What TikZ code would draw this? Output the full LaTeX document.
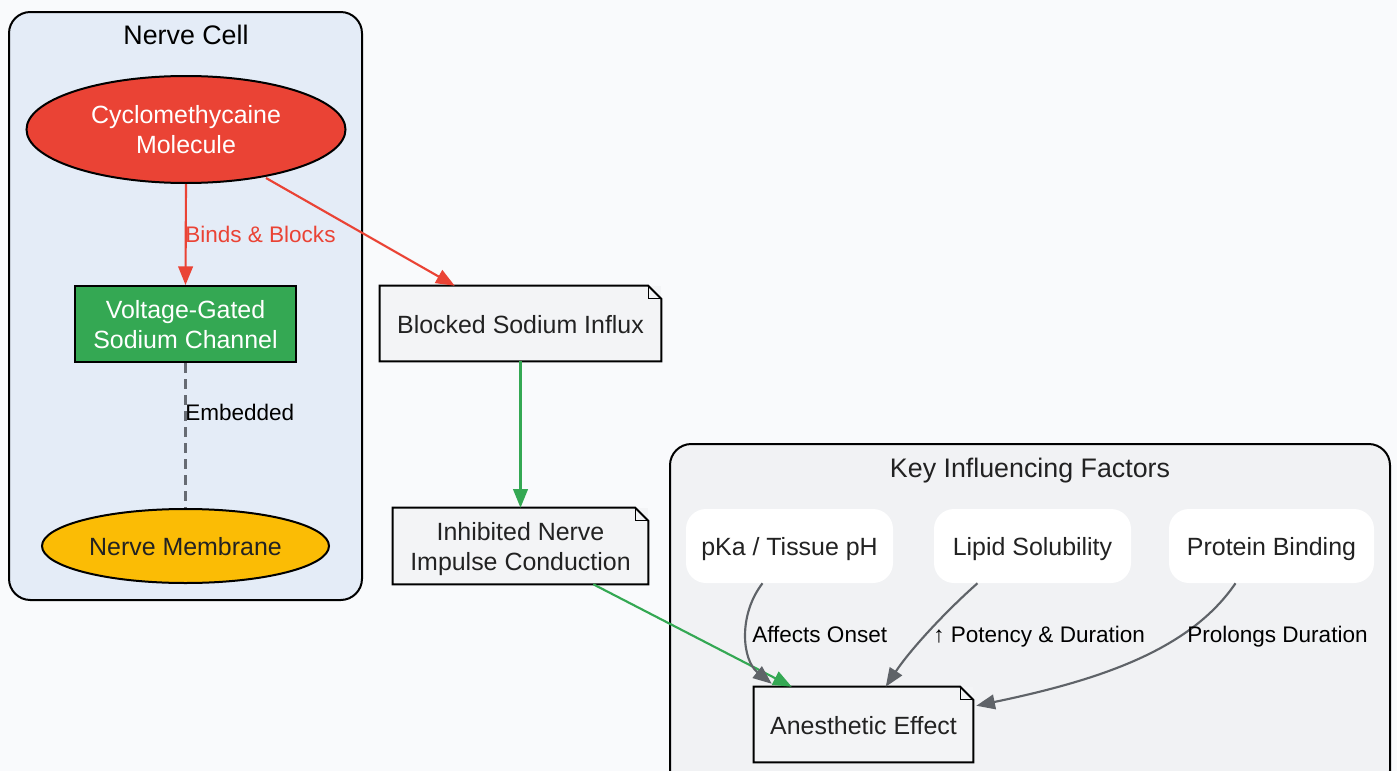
\documentclass[tikz,border=0pt]{standalone}
\usepackage{fontspec}
\setmainfont{Liberation Sans}
\usetikzlibrary{shapes.geometric,arrows.meta,calc}
\definecolor{bgc}{HTML}{F9FAFC}
\definecolor{cellfill}{HTML}{E4ECF7}
\definecolor{keyfill}{HTML}{F1F2F4}
\definecolor{molred}{HTML}{EA4335}
\definecolor{chgreen}{HTML}{34A853}
\definecolor{memyel}{HTML}{FBBC05}
\definecolor{notefill}{HTML}{F3F4F6}
\definecolor{txt}{HTML}{222222}
\definecolor{greyarrow}{HTML}{5F6368}
\definecolor{dashgrey}{HTML}{666B73}
\newcommand{\foldnote}[1]{%
  \draw[line width=1.5pt,line join=miter] (#1.north west) -- ($(#1.north east)+(-13,0)$) -- ($(#1.north east)+(0,13)$) -- (#1.south east) -- (#1.south west) -- cycle;
  \draw[line width=1.1pt] ($(#1.north east)+(-13,0)$) -- ++(0,13) -- ++(13,0);}
\tikzset{
  nodefont/.style={font=\fontsize{18.7}{22.4}\selectfont},
  titlefont/.style={font=\fontsize{20.1}{24}\selectfont},
  lblfont/.style={font=\fontsize{16.9}{20}\selectfont},
  oneline/.style={text height=16.8pt,text depth=2.2pt},
  twoline/.style={text height=36.8pt,text depth=0pt},
  cluster/.style={draw=black,line width=1.5pt,rounded corners=16pt},
  molstyle/.style={ellipse,draw=black,line width=1.5pt,fill=molred,text=white,nodefont,align=center,inner sep=0pt},
  chanstyle/.style={rectangle,draw=black,line width=1.5pt,fill=chgreen,text=white,nodefont,align=center,inner sep=0pt},
  memstyle/.style={ellipse,draw=black,line width=1.5pt,fill=memyel,text=txt,nodefont,align=center,inner sep=0pt},
  notebox/.style={rectangle,fill=notefill,text=txt,nodefont,align=center,inner sep=0pt},
  factor/.style={rectangle,rounded corners=15pt,fill=white,text=txt,nodefont,align=center,inner sep=0pt,minimum height=74*0.75pt,oneline},
  arrowtip/.style={-{Triangle[length=14pt,width=11pt]}},
  redarrow/.style={draw=molred,line width=1.6pt,arrowtip},
  greenarrow/.style={draw=chgreen,line width=1.6pt,arrowtip},
  greyarr/.style={draw=greyarrow,line width=1.6pt,arrowtip},
  edgelbl/.style={lblfont,anchor=base west,inner sep=0pt},
}
\begin{document}
\begin{tikzpicture}[x=0.75pt,y=-0.75pt]
\useasboundingbox[fill=bgc] (0,0) rectangle (1397,771);
% clusters
\draw[cluster,fill=cellfill] (9,12) rectangle (362,600);
\node[titlefont,text=black,anchor=base] (celltitle) at (186,45) {Nerve Cell};
\draw[cluster,fill=keyfill] (670,444) rectangle (1390,792);
\node[titlefont,text=txt,anchor=base] (keytitle) at (1030,477.5) {Key Influencing Factors};
% nerve cell nodes
\node[molstyle,minimum width=319*0.75pt,minimum height=107*0.75pt] (mol) at (186,129.5) {Cyclomethycaine\\Molecule};
\node[chanstyle,twoline,minimum width=221*0.75pt,minimum height=76*0.75pt] (chan) at (185.5,324) {Voltage-Gated\\Sodium Channel};
\node[memstyle,oneline,minimum width=287*0.75pt,minimum height=74*0.75pt] (mem) at (185.5,546) {Nerve Membrane};
% notes
\node[notebox,oneline,minimum width=281*0.75pt,minimum height=75*0.75pt] (blocked) at (520.5,323.5) {Blocked Sodium Influx};
\foldnote{blocked}
\node[notebox,twoline,minimum width=255*0.75pt,minimum height=76*0.75pt] (inhib) at (520.5,546) {Inhibited Nerve\\Impulse Conduction};
\foldnote{inhib}
\node[notebox,oneline,minimum width=219*0.75pt,minimum height=75*0.75pt] (anest) at (863.5,724.5) {Anesthetic Effect};
\foldnote{anest}
% factors
\node[factor,minimum width=207*0.75pt] (pka) at (789.5,546) {pKa / Tissue pH};
\node[factor,minimum width=197*0.75pt] (lipid) at (1032.5,546) {Lipid Solubility};
\node[factor,minimum width=205*0.75pt] (prot) at (1271.5,546) {Protein Binding};
% connectors
\draw[redarrow] (mol.south) -- (chan.north);
\node[edgelbl,text=molred] (lblbind) at (185,242.7) {Binds \& Blocks};
\draw[draw=dashgrey,line width=1.6pt,dash pattern=on 7.5pt off 4.5pt] (chan.south) -- (mem.north);
\node[edgelbl,text=black] (lblemb) at (185,420.7) {Embedded};
\draw[redarrow] ($(mol.south)+(80,-6)$) -- ($(blocked.north west)+(75,0)$);
\draw[greenarrow] (blocked.south) -- (inhib.north);
\draw[greenarrow] ($(inhib.south east)+(-55,0)$) -- ($(anest.north west)+(38,0)$);
\draw[greyarr] ($(pka.south)+(-27,0)$) .. controls (738,615) and (742,660) .. ($(anest.north west)+(18,-3)$);
\node[edgelbl,text=black] (lblons) at (752,642.7) {Affects Onset};
\draw[greyarr] ($(lipid.south)+(-55,0)$) .. controls (945,612) and (910,650) .. ($(anest.north west)+(132,0)$);
\node[edgelbl,text=black] (lblpot) at (933,642.7) {↑ Potency \& Duration};
\draw[greyarr] ($(prot.south)+(-36,0)$) .. controls (1190,650) and (1100,680) .. ($(anest.north east)+(3,19)$);
\node[edgelbl,text=black] (lblpro) at (1187,642.7) {Prolongs Duration};
\end{tikzpicture}
\end{document}
